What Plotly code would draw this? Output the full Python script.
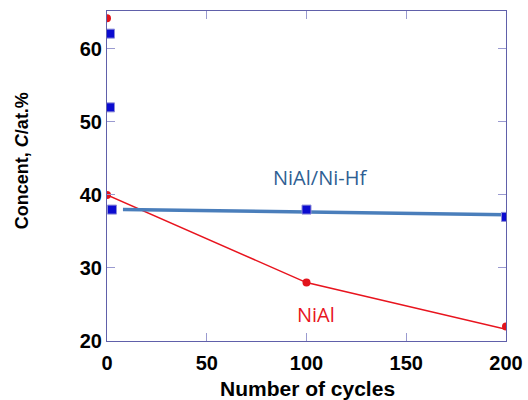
import plotly.graph_objects as go

# NiAl data (red)
nial_x = [0, 0, 100, 200]
nial_y = [64.2, 40, 28, 22]
nial_line_x = [0, 100, 200]
nial_line_y = [40, 28, 21.6]

# NiAl/Ni-Hf data (blue)
hf_x = [1.5, 1.5, 2.5, 100, 200]
hf_y = [62.1, 52, 38, 38, 37]
hf_line_x = [8, 200]
hf_line_y = [38.0, 37.3]

x_ticks = [0, 50, 100, 150, 200]
y_ticks = [20, 30, 40, 50, 60]

axis_col = "#6060aa"
tick_col = "#9a9ad0"
bold_font = "Liberation Sans, Arial, sans-serif"

fig = go.Figure()
fig.add_trace(go.Scatter(x=nial_line_x, y=nial_line_y, mode="lines",
                         line=dict(color="#e8141e", width=1.5), showlegend=False, hoverinfo="skip"))
fig.add_trace(go.Scatter(x=hf_line_x, y=hf_line_y, mode="lines",
                         line=dict(color="#4a7ebb", width=3.5), showlegend=False, hoverinfo="skip"))
fig.add_trace(go.Scatter(x=nial_x, y=nial_y, mode="markers",
                         marker=dict(symbol="circle", size=8, color="#e2141c"), showlegend=False))
fig.add_trace(go.Scatter(x=hf_x, y=hf_y, mode="markers",
                         marker=dict(symbol="square", size=9, color="#0b0bd0",
                                     line=dict(color="#8c8cd8", width=1)), showlegend=False))

fig.add_annotation(x=107, y=42.4, text="NiAl/Ni-Hf", showarrow=False,
                   font=dict(family="Open Sans, Liberation Sans, sans-serif", size=20, color="#2f5f93"))
fig.add_annotation(x=105, y=23.6, text="NiAl", showarrow=False,
                   font=dict(family="Open Sans, Liberation Sans, sans-serif", size=20, color="#e8141e"))

# axis titles as annotations for exact placement
fig.add_annotation(xref="paper", yref="paper", x=0, y=0.545, xanchor="center", yanchor="middle",
                   xshift=-85, textangle=-90, showarrow=False,
                   text="<b>Concent, <i>C</i>/at.%</b>",
                   font=dict(family=bold_font, size=18, color="black"))
fig.add_annotation(xref="paper", yref="paper", x=0.503, y=0, xanchor="center", yanchor="middle",
                   yshift=-47, showarrow=False,
                   text="<b>Number of cycles</b>",
                   font=dict(family=bold_font, size=21, color="black"))

axis_common = dict(showgrid=False, zeroline=False, showline=True, linecolor=axis_col, linewidth=1.2,
                   mirror="allticks", ticks="inside", ticklen=8, tickcolor=tick_col, tickwidth=1.2,
                   automargin=False,
                   tickfont=dict(family=bold_font, size=20, color="black"))

fig.update_xaxes(range=[0, 200], tickvals=x_ticks, ticktext=[f"<b>{v}</b>" for v in x_ticks],
                 ticklabelstandoff=4, **axis_common)
fig.update_yaxes(range=[20, 65.2], tickvals=y_ticks, ticktext=[f"<b>{v}</b>" for v in y_ticks],
                 **axis_common)

fig.update_layout(width=528, height=400, margin=dict(l=107, r=22, t=11, b=59),
                  plot_bgcolor="white", paper_bgcolor="white")

fig.write_html("out.html")
